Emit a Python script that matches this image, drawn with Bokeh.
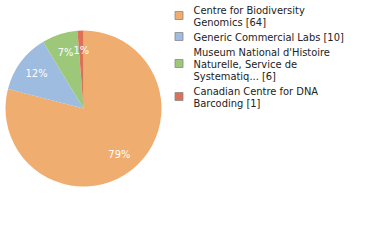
import textwrap
import numpy as np
from bokeh.plotting import figure
from bokeh.models import Range1d, ColumnDataSource
from bokeh.core.properties import value
from bokeh.embed import file_html
from bokeh.resources import INLINE

# ---- data ----
names = ["Centre for Biodiversity Genomics",
         "Generic Commercial Labs",
         "Museum National d'Histoire Naturelle, Service de Systematiq...",
         "Canadian Centre for DNA Barcoding"]
counts = [64, 10, 6, 1]
colors = ["#EFAD6F", "#9EBBE0", "#9DC87A", "#DD7158"]

W, H = 380, 240
cx, cy, R = 83, H - 108, 78
FONT = "DejaVu Sans Condensed"

vals = np.array(counts, dtype=float)
frac = vals / vals.sum()
cum = np.concatenate([[0], np.cumsum(frac)])
# clockwise from 12 o'clock
start = np.pi / 2 - 2 * np.pi * cum[:-1]
end = np.pi / 2 - 2 * np.pi * cum[1:]
mid = (start + end) / 2

p = figure(width=W, height=H, output_backend="svg", toolbar_location=None,
           x_range=Range1d(0, W), y_range=Range1d(0, H), min_border=0)
p.axis.visible = False
p.grid.visible = False
p.outline_line_color = None
p.background_fill_color = "white"
p.border_fill_color = "white"

src = ColumnDataSource(dict(start=start, end=end, color=colors))
p.wedge(x=cx, y=cy, radius=R, start_angle="start", end_angle="end",
        direction="clock", fill_color="color", line_color=None, source=src)

pct = [f"{round(100 * f)}%" for f in frac]
lr = 0.75 * R
p.text(x=cx + lr * np.cos(mid), y=cy + lr * np.sin(mid), text=pct,
       text_color="white", text_font=value(FONT), text_font_size="11px",
       text_align="center", text_baseline="middle")

# legend: one text glyph per wrapped line
labels = [textwrap.wrap(f"{n} [{c}]", 28) for n, c in zip(names, counts)]
lh, gap = 12, 3
sq_y, line_y, line_txt = [], [], []
top = 3.5
for lines in labels:
    n = len(lines)
    sq_y.append(H - (top + n * lh / 2 - 0.5))
    for i, t in enumerate(lines):
        line_y.append(H - (top + lh * i + lh / 2 + 0.5))
        line_txt.append(t)
    top += n * lh + gap
p.rect(x=178.5, y=sq_y, width=8, height=8, fill_color=colors,
       line_color="#888888", line_alpha=0.8)
p.text(x=193, y=line_y, text=line_txt, text_font=value(FONT), text_font_size="11px",
       text_color="#222222", text_align="left", text_baseline="middle")

open("out.html", "w").write(file_html(p, INLINE))
